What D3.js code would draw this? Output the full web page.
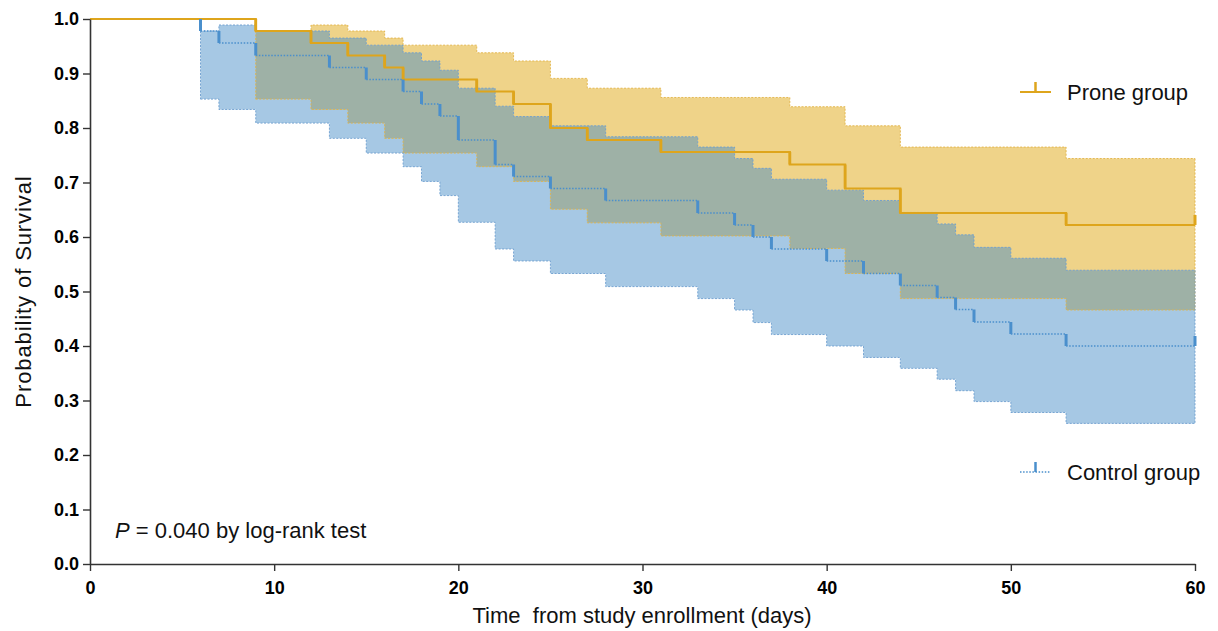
<!DOCTYPE html>
<html>
<head>
<meta charset="utf-8">
<script src="https://cdn.jsdelivr.net/npm/d3@7"></script>
<style>
  html, body { margin: 0; padding: 0; background: #fff; }
  svg { display: block; font-family: "Liberation Sans", Arial, Helvetica, sans-serif; }
  text { white-space: pre; }
</style>
</head>
<body>
<svg id="chart" width="1218" height="631"></svg>
<script>
// ---- Data ----
const endDay = 60;

const proneTimes = [0, 9, 12, 14, 16, 17, 21, 23, 25, 27, 31, 38, 41, 44, 53];
const proneSurv  = [1.0, 0.978, 0.956, 0.933, 0.911, 0.889, 0.867, 0.844, 0.800, 0.778, 0.756, 0.733, 0.689, 0.644, 0.622];
const proneUpper = [1.0, 0.978, 0.989, 0.978, 0.965, 0.952, 0.938, 0.923, 0.891, 0.873, 0.856, 0.839, 0.804, 0.765, 0.744];
const proneLower = [1.0, 0.853, 0.834, 0.809, 0.781, 0.754, 0.729, 0.702, 0.651, 0.626, 0.602, 0.579, 0.533, 0.487, 0.466];

const controlTimes = [0, 6, 7, 9, 13, 15, 17, 18, 19, 20, 22, 23, 25, 28, 33, 35, 36, 37, 40, 42, 44, 46, 47, 48, 50, 53];
const controlSurv  = [1.0, 0.978, 0.956, 0.933, 0.911, 0.889, 0.867, 0.844, 0.822, 0.778, 0.733, 0.711, 0.689, 0.667, 0.644, 0.622, 0.600, 0.578, 0.556, 0.533, 0.511, 0.489, 0.467, 0.444, 0.422, 0.400];
const controlUpper = [1.0, 0.978, 0.989, 0.978, 0.965, 0.952, 0.938, 0.923, 0.906, 0.873, 0.840, 0.821, 0.804, 0.784, 0.765, 0.744, 0.726, 0.706, 0.686, 0.667, 0.645, 0.624, 0.604, 0.581, 0.561, 0.539];
const controlLower = [1.0, 0.853, 0.834, 0.809, 0.781, 0.754, 0.729, 0.702, 0.676, 0.627, 0.578, 0.556, 0.533, 0.509, 0.487, 0.466, 0.443, 0.421, 0.400, 0.379, 0.359, 0.339, 0.318, 0.298, 0.278, 0.258];

const censorProne = [60];
const censorControl = [60];

const xTicks = [0, 10, 20, 30, 40, 50, 60];
const yTicks = [0, 0.1, 0.2, 0.3, 0.4, 0.5, 0.6, 0.7, 0.8, 0.9, 1.0];

const seriesNames = ["Prone group", "Control group"];
const xLabel = "Time  from study enrollment (days)";
const yLabel = "Probability of Survival";

// ---- Setup ----
const svg = d3.select("#chart");
const x = d3.scaleLinear().domain([0, 60]).range([90, 1195]);
const y = d3.scaleLinear().domain([0, 1]).range([564, 19]);

const C = {
  orangeLine: "#DEA51C",
  orangeFill: "#EFD389",
  orangeEdge: "#E2B447",
  blueFill: "rgba(70,140,199,0.48)",
  blueLine: "#4A8FCC",
  blueEdge: "#6E9FCF"
};

function build(times, surv, upper, lower) {
  const pts = times.map((t, i) => ({ t, s: surv[i], u: upper[i], l: lower[i] }));
  const last = pts[pts.length - 1];
  pts.push({ t: endDay, s: last.s, u: last.u, l: last.l });
  return pts;
}
const prone = build(proneTimes, proneSurv, proneUpper, proneLower);
const control = build(controlTimes, controlSurv, controlUpper, controlLower);

const area = d3.area().curve(d3.curveStepAfter)
  .x(d => x(d.t)).y0(d => y(d.l)).y1(d => y(d.u));
const upLine = d3.line().curve(d3.curveStepAfter).x(d => x(d.t)).y(d => y(d.u));
const loLine = d3.line().curve(d3.curveStepAfter).x(d => x(d.t)).y(d => y(d.l));
const sLine = d3.line().curve(d3.curveStepAfter).x(d => x(d.t)).y(d => y(d.s));

const proneBand = prone.slice(1);
const controlBand = control.slice(1);

// bands
svg.append("path").datum(proneBand).attr("d", area).attr("fill", C.orangeFill);
svg.append("path").datum(controlBand).attr("d", area).attr("fill", C.blueFill);

// band edges
[[proneBand, C.orangeEdge], [controlBand, C.blueEdge]].forEach(([d, col]) => {
  [upLine, loLine].forEach(gen => {
    svg.append("path").datum(d).attr("d", gen)
      .attr("fill", "none").attr("stroke", col).attr("stroke-width", 1)
      .attr("stroke-dasharray", "2,1.5").attr("opacity", 0.9);
  });
  const first = d[0], last = d[d.length - 1];
  [first, last].forEach(p => {
    svg.append("line").attr("x1", x(p.t)).attr("x2", x(p.t))
      .attr("y1", y(p.u)).attr("y2", y(p.l))
      .attr("stroke", col).attr("stroke-width", 1)
      .attr("stroke-dasharray", "2,1.5").attr("opacity", 0.9);
  });
});

function drops(pts) {
  const out = [];
  for (let i = 1; i < pts.length - 1; i++) out.push({ t: pts[i].t, a: pts[i - 1].s, b: pts[i].s });
  return out;
}

// control: dotted horizontals
const controlH = control.map((p, i) => i < control.length - 1 ? { t0: p.t, t1: control[i + 1].t, s: p.s } : null).filter(Boolean);
svg.append("g").selectAll("line").data(controlH).join("line")
  .attr("x1", d => x(d.t0)).attr("x2", d => x(d.t1))
  .attr("y1", d => y(d.s)).attr("y2", d => y(d.s))
  .attr("stroke", C.blueLine).attr("stroke-width", 1.6)
  .attr("stroke-dasharray", "1.5,1.6");

// prone line
svg.append("path").datum(prone).attr("d", sLine)
  .attr("fill", "none").attr("stroke", C.orangeLine).attr("stroke-width", 2.2);
svg.append("g").selectAll("line").data(drops(prone)).join("line")
  .attr("x1", d => x(d.t)).attr("x2", d => x(d.t))
  .attr("y1", d => y(d.a)).attr("y2", d => y(d.b))
  .attr("stroke", C.orangeLine).attr("stroke-width", 2.8);

// control: solid vertical drops
svg.append("g").selectAll("line").data(drops(control)).join("line")
  .attr("x1", d => x(d.t)).attr("x2", d => x(d.t))
  .attr("y1", d => y(d.a)).attr("y2", d => y(d.b))
  .attr("stroke", C.blueLine).attr("stroke-width", 3);

// censor ticks
svg.append("g").selectAll("line").data(censorProne).join("line")
  .attr("x1", d => x(d)).attr("x2", d => x(d))
  .attr("y1", y(proneSurv[proneSurv.length - 1])).attr("y2", y(proneSurv[proneSurv.length - 1]) - 10)
  .attr("stroke", C.orangeLine).attr("stroke-width", 3);
svg.append("g").selectAll("line").data(censorControl).join("line")
  .attr("x1", d => x(d)).attr("x2", d => x(d))
  .attr("y1", y(controlSurv[controlSurv.length - 1])).attr("y2", y(controlSurv[controlSurv.length - 1]) - 10)
  .attr("stroke", C.blueLine).attr("stroke-width", 3);

// ---- Axes ----
const axisColor = "#333";
const xAxis = svg.append("g").attr("transform", `translate(0,${y(0)})`)
  .call(d3.axisBottom(x).tickValues(xTicks).tickSize(7).tickSizeOuter(0).tickFormat(d3.format("d")));
const yAxis = svg.append("g").attr("transform", `translate(${x(0)},0)`)
  .call(d3.axisLeft(y).tickValues(yTicks).tickSize(7).tickSizeOuter(0).tickFormat(d3.format(".1f")));
[xAxis, yAxis].forEach(g => {
  g.select(".domain").attr("stroke", axisColor).attr("stroke-width", 1.6);
  g.selectAll(".tick line").attr("stroke", axisColor).attr("stroke-width", 1.4);
  g.selectAll(".tick text").attr("fill", "#000")
    .style("font-family", "'Liberation Sans', Arial, sans-serif")
    .style("font-size", "18px").style("font-weight", "bold");
});
xAxis.selectAll(".tick text").attr("dy", "0.71em").attr("y", 17);
yAxis.selectAll(".tick text").attr("x", -11);

// axis labels
svg.append("text").attr("x", 642).attr("y", 623).attr("text-anchor", "middle")
  .style("font-size", "22px").attr("fill", "#111").text(xLabel);
svg.append("text").attr("transform", `translate(31,${y(0.5)}) rotate(-90)`).attr("text-anchor", "middle")
  .style("font-size", "22px").style("letter-spacing", "0.9px").attr("fill", "#111").text(yLabel);

// P-value annotation
const pt = svg.append("text").attr("x", 115).attr("y", 538).style("font-size", "22px").attr("fill", "#111");
pt.append("tspan").style("font-style", "italic").text("P");
pt.append("tspan").text(" = 0.040 by log-rank test");

// ---- Legend ----
const legend = [
  { name: seriesNames[0], yPos: 92, col: C.orangeLine, dotted: false },
  { name: seriesNames[1], yPos: 472, col: C.blueLine, dotted: true }
];
const lg = svg.append("g").selectAll("g").data(legend).join("g");
lg.append("line").attr("x1", 1020).attr("x2", 1051).attr("y1", d => d.yPos).attr("y2", d => d.yPos)
  .attr("stroke", d => d.col).attr("stroke-width", d => d.dotted ? 1.6 : 2)
  .attr("stroke-dasharray", d => d.dotted ? "1.5,1.6" : null);
lg.append("line").attr("x1", 1035.5).attr("x2", 1035.5).attr("y1", d => d.yPos).attr("y2", d => d.yPos - 10)
  .attr("stroke", d => d.col).attr("stroke-width", 2.5);
lg.append("text").attr("x", 1067).attr("y", d => d.yPos + 8)
  .style("font-size", "22px").attr("fill", "#111").text(d => d.name);
</script>
</body>
</html>
